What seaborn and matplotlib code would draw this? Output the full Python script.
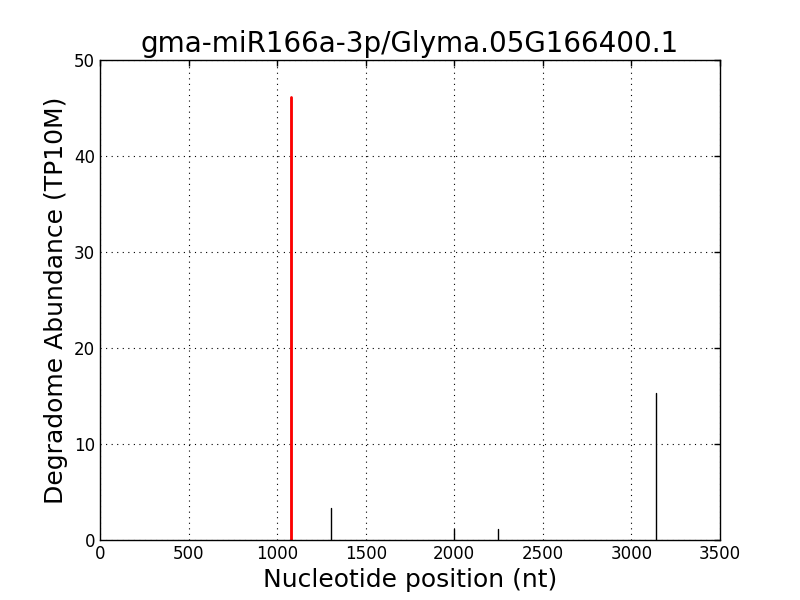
import pandas as pd
import seaborn as sns
import matplotlib.pyplot as plt

# degradome peaks
positions = [1078, 1304, 1996, 2249, 3136]
abundance = [46.1, 3.3, 1.1, 1.1, 15.3]
target_pos = 1078
target_abund = 46.1

sns.set_style("white")
plt.rcParams['font.family'] = ['DejaVu Sans']
plt.rcParams['text.color'] = 'black'
plt.rcParams['axes.labelcolor'] = 'black'

# two points per peak (base and top) so lineplot draws a stick
rows = []
for i, (p, a) in enumerate(zip(positions, abundance)):
    rows.append({"peak": i, "pos": p, "abund": 0})
    rows.append({"peak": i, "pos": p, "abund": a})
df = pd.DataFrame(rows)
df_target = pd.DataFrame({"peak": [0, 0], "pos": [target_pos, target_pos],
                          "abund": [0, target_abund]})

fig = plt.figure(figsize=(8, 6), dpi=100)
ax = fig.add_axes([0.125, 0.1, 0.775, 0.8])

sns.lineplot(data=df, x="pos", y="abund", units="peak", estimator=None,
             color="black", linewidth=1, ax=ax)
sns.lineplot(data=df_target, x="pos", y="abund", units="peak", estimator=None,
             color="red", linewidth=2, ax=ax)

ax.set_xlim(0, 3500)
ax.set_ylim(0, 50)
ax.set_xticks(range(0, 3501, 500))
ax.set_yticks(range(0, 51, 10))
ax.grid(True, color="black", linestyle=(0, (1, 4)), linewidth=0.8)
ax.tick_params(direction="in", top=True, right=True, length=4, width=1,
               labelsize=12, colors="black")
for s in ax.spines.values():
    s.set_color("black")
    s.set_linewidth(1)

ax.set_title("gma-miR166a-3p/Glyma.05G166400.1", fontsize=20, color="black")
ax.set_xlabel("Nucleotide position (nt)", fontsize=18, color="black")
ax.set_ylabel("Degradome Abundance (TP10M)", fontsize=18, color="black")

fig.savefig("out.png", dpi=100)
